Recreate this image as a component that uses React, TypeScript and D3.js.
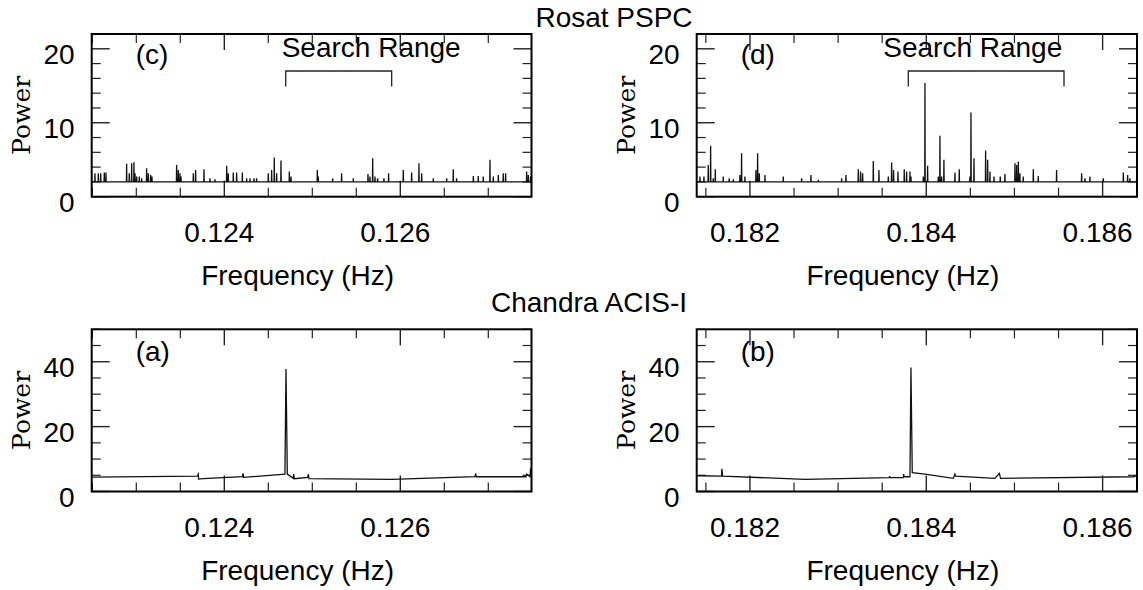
import React from 'react';
import * as d3 from 'd3';

const W = 1143;
const H = 590;

// ---------- data ----------
// Rosat PSPC, panel (c): spike frequencies (Hz) and peak powers
const rosatLowFreq = [
  0.12253, 0.122568, 0.122595, 0.122636, 0.122655, 0.12289, 0.12292, 0.122947, 0.122973, 0.122985,
  0.123004, 0.123034, 0.123061, 0.123117, 0.123136, 0.123163, 0.123178, 0.123458, 0.123477, 0.123496,
  0.123508, 0.123648, 0.123674, 0.123769, 0.123837, 0.123894, 0.124027, 0.124045, 0.124102, 0.12414,
  0.124205, 0.124254, 0.124292, 0.124337, 0.124367, 0.1245, 0.124538, 0.124568, 0.124595, 0.124644,
  0.124739, 0.124758, 0.125057, 0.125068, 0.125231, 0.125333, 0.125466, 0.125633, 0.125655, 0.125686,
  0.125712, 0.125742, 0.125814, 0.125867, 0.126034, 0.126129, 0.126212, 0.126243, 0.126375, 0.126527,
  0.126602, 0.12664, 0.12683, 0.126886, 0.126943, 0.127019, 0.127057, 0.127114, 0.12717, 0.127197,
  0.127436, 0.127455, 0.127481,
];
const rosatLowPower = [
  3.17, 3.17, 3.17, 3.26, 3.26, 4.44, 3.17, 4.53, 4.66, 3.17,
  2.72, 2.72, 2.49, 3.85, 3.17, 2.94, 2.72, 4.3, 3.62, 3.17,
  2.72, 3.17, 3.62, 3.71, 2.49, 2.36, 4.17, 3.17, 3.26, 3.26,
  3.26, 2.49, 2.49, 2.49, 2.49, 3.17, 3.62, 5.3, 3.17, 4.89,
  3.4, 2.72, 3.62, 2.72, 2.49, 3.17, 2.49, 3.08, 2.72, 5.21,
  2.72, 2.49, 2.49, 3.17, 3.62, 3.26, 4.53, 3.17, 2.49, 2.49,
  3.71, 2.49, 2.81, 2.81, 2.72, 4.98, 2.72, 2.94, 3.17, 3.17,
  3.4, 2.94, 2.72,
];

// Rosat PSPC, panel (d)
const rosatHighFreq = [
  0.181433, 0.181478, 0.181527, 0.181554, 0.181584, 0.181607, 0.181697, 0.181765, 0.181811, 0.181886,
  0.181905, 0.181943, 0.182068, 0.182087, 0.182106, 0.18217, 0.182378, 0.182586, 0.182692, 0.182775,
  0.18304, 0.183089, 0.183229, 0.183255, 0.183278, 0.183399, 0.183463, 0.183569, 0.183607, 0.183629,
  0.183679, 0.18375, 0.183777, 0.183815, 0.183826, 0.183966, 0.183985, 0.184015, 0.184136, 0.184155,
  0.184174, 0.1842, 0.184325, 0.184374, 0.184495, 0.184507, 0.184541, 0.184673, 0.184696, 0.184722,
  0.184768, 0.184839, 0.184892, 0.185006, 0.185025, 0.185044, 0.185062, 0.1851, 0.185214, 0.18527,
  0.185478, 0.185762, 0.1858, 0.185856, 0.186008, 0.186235, 0.186284, 0.18631, 0.186386,
];
const rosatHighPower = [
  2.72, 2.72, 4.3, 6.88, 2.49, 3.71, 2.72, 2.49, 2.36, 2.94,
  5.88, 2.72, 3.62, 5.88, 3.17, 2.94, 2.72, 2.49, 2.94, 2.27,
  2.49, 2.94, 3.71, 3.4, 3.17, 4.84, 3.62, 2.72, 4.61, 3.62,
  3.4, 3.71, 3.4, 3.4, 2.72, 2.72, 15.38, 4.17, 2.72, 8.24,
  2.72, 4.98, 3.26, 3.71, 2.72, 11.4, 5.21, 6.25, 4.98, 3.4,
  2.72, 2.72, 3.08, 4.53, 4.3, 4.75, 3.17, 2.72, 3.71, 2.81,
  3.62, 3.17, 2.49, 2.72, 2.49, 3.26, 2.94, 2.49, 2.49,
];
const rosatBaseline = 2.0;

// Chandra ACIS-I, panel (a): polyline points
const chandraLowFreq = [
  0.122492, 0.123693, 0.123705, 0.123708, 0.123761, 0.124205, 0.124212, 0.12422, 0.124689, 0.124701,
  0.124716, 0.124784, 0.124788, 0.124795, 0.124947, 0.124955, 0.124962, 0.125902, 0.126849, 0.126856,
  0.126864, 0.127428, 0.127436, 0.127474, 0.127481, 0.1275,
];
const chandraLowPower = [
  4.45, 4.76, 5.38, 3.83, 3.94, 4.55, 5.59, 4.35, 5.38, 37.73,
  5.38, 4.04, 5.38, 3.94, 4.35, 5.38, 3.94, 3.73, 4.55, 5.59,
  4.55, 4.55, 5.38, 4.55, 7.12, 4.55,
];

// Chandra ACIS-I, panel (b)
const chandraHighFreq = [
  0.181395, 0.181678, 0.181682, 0.18169, 0.182624, 0.18358, 0.183584, 0.183588, 0.183739, 0.183743,
  0.18375, 0.183815, 0.183826, 0.183841, 0.183985, 0.184306, 0.184325, 0.184333, 0.184779, 0.184828,
  0.184843, 0.186348, 0.186386, 0.186397,
];
const chandraHighPower = [
  4.86, 4.76, 7.03, 4.76, 3.73, 4.25, 4.76, 4.25, 4.25, 5.38,
  4.55, 4.55, 38.25, 5.79, 5.38, 4.04, 5.38, 4.76, 4.04, 5.59,
  4.04, 4.55, 4.86, 4.55,
];

// axes
const lowDomain = [0.122493, 0.127491];
const highDomain = [0.181396, 0.18639];
const lowMajorTicks = [0.124, 0.126];
const lowTickLabels = ['0.124', '0.126'];
const highMajorTicks = [0.182, 0.184, 0.186];
const highTickLabels = ['0.182', '0.184', '0.186'];
const minorStepX = 0.0005;
const rosatYDomain = [0, 22];
const rosatYTicks = [0, 10, 20];
const rosatYTickLabels = ['0', '10', '20'];
const rosatMinorStep = 2;
const chandraYDomain = [0, 50];
const chandraYTicks = [0, 20, 40];
const chandraYTickLabels = ['0', '20', '40'];
const chandraMinorStep = 5;

// search ranges
const searchLow = [0.124698, 0.125902];
const searchHigh = [0.183796, 0.185562];
const searchLabelLow = 0.124652;
const searchLabelHigh = 0.183512;
const searchBracketPower = [17.0, 14.9];

const SANS = 'Liberation Sans, Arial, Helvetica, sans-serif';
const SERIF = 'DejaVu Serif, serif';

type PanelProps = {
  x0: number; x1: number; y0: number; y1: number;
  xDomain: number[]; yDomain: number[];
  points: [number, number][];
  majorX: number[]; labelsX: string[];
  majorY: number[]; labelsY: string[]; minorStepY: number;
  letter: string; letterDy: number;
  search?: { range: number[]; labelAt: number };
  id: string;
};

function Panel(p: PanelProps) {
  const x = d3.scaleLinear().domain(p.xDomain).range([p.x0, p.x1]);
  const y = d3.scaleLinear().domain(p.yDomain).range([p.y1, p.y0]);
  const line = d3.line<[number, number]>().x(d => x(d[0])).y(d => y(d[1]));
  const minorX = d3.range(Math.ceil(p.xDomain[0] / minorStepX) * minorStepX, p.xDomain[1], minorStepX)
    .filter(v => !p.majorX.some(m => Math.abs(m - v) < 1e-7));
  const minorY = d3.range(p.yDomain[0] + p.minorStepY, p.yDomain[1] + 1e-9, p.minorStepY)
    .filter(v => !p.majorY.includes(v));
  const tickCol = '#222';
  const majX = 16, minX = 9, majY = 18, minY = 9;
  return (
    <g>
      <defs>
        <clipPath id={p.id}>
          <rect x={p.x0} y={p.y0} width={p.x1 - p.x0} height={p.y1 - p.y0} />
        </clipPath>
      </defs>
      {p.majorX.map((v, i) => (
        <g key={'mx' + i}>
          <line x1={x(v)} x2={x(v)} y1={p.y1} y2={p.y1 - majX} stroke={tickCol} strokeWidth={1.4} />
          <line x1={x(v)} x2={x(v)} y1={p.y0} y2={p.y0 + majX} stroke={tickCol} strokeWidth={1.4} />
          <text x={x(v) - 5} y={p.y1 + 45} textAnchor="middle" fontFamily={SANS} fontSize={28}>{p.labelsX[i]}</text>
        </g>
      ))}
      {minorX.map((v, i) => (
        <g key={'nx' + i}>
          <line x1={x(v)} x2={x(v)} y1={p.y1} y2={p.y1 - minX} stroke={tickCol} strokeWidth={1.2} />
          <line x1={x(v)} x2={x(v)} y1={p.y0} y2={p.y0 + minX} stroke={tickCol} strokeWidth={1.2} />
        </g>
      ))}
      {p.majorY.map((v, i) => (
        <g key={'my' + i}>
          <line x1={p.x0} x2={p.x0 + majY} y1={y(v)} y2={y(v)} stroke={tickCol} strokeWidth={1.4} />
          <line x1={p.x1} x2={p.x1 - majY} y1={y(v)} y2={y(v)} stroke={tickCol} strokeWidth={1.4} />
          <text x={p.x0 - 17} y={y(v) + 15.5} textAnchor="end" fontFamily={SANS} fontSize={28}>{p.labelsY[i]}</text>
        </g>
      ))}
      {minorY.map((v, i) => (
        <g key={'ny' + i}>
          <line x1={p.x0} x2={p.x0 + minY} y1={y(v)} y2={y(v)} stroke={tickCol} strokeWidth={1.2} />
          <line x1={p.x1} x2={p.x1 - minY} y1={y(v)} y2={y(v)} stroke={tickCol} strokeWidth={1.2} />
        </g>
      ))}
      <path d={line(p.points) || ''} fill="none" stroke="#111" strokeWidth={1.3} clipPath={`url(#${p.id})`} />
      <rect x={p.x0} y={p.y0} width={p.x1 - p.x0} height={p.y1 - p.y0} fill="none" stroke="#000" strokeWidth={2} />
      <text x={p.x0 + 44} y={p.y0 + p.letterDy} fontFamily={SANS} fontSize={28}>{p.letter}</text>
      <text x={(p.x0 + p.x1) / 2 - 14} y={p.y1 + 88} textAnchor="middle" fontFamily={SANS} fontSize={28}>Frequency (Hz)</text>
      <text transform={`translate(${p.x0 - 62},${(p.y0 + p.y1) / 2}) rotate(-90)`} textAnchor="middle" fontFamily={SERIF} fontSize={25}>Power</text>
      {p.search && (
        <g>
          <path
            d={`M${x(p.search.range[0])},${y(searchBracketPower[1])}V${y(searchBracketPower[0])}H${x(p.search.range[1])}V${y(searchBracketPower[1])}`}
            fill="none" stroke="#222" strokeWidth={1.3}
          />
          <text x={x(p.search.labelAt)} y={p.y0 + 22.7} fontFamily={SANS} fontSize={28}>Search Range</text>
        </g>
      )}
    </g>
  );
}

function spikes(freq: number[], power: number[], base: number, domain: number[]): [number, number][] {
  const eps = 0.0000025;
  const pts: [number, number][] = [[domain[0], base]];
  freq.forEach((f, i) => {
    pts.push([f - eps, base], [f, power[i]], [f + eps, base]);
  });
  pts.push([domain[1], base]);
  return pts;
}

function zipPts(f: number[], p: number[]): [number, number][] {
  return f.map((v, i) => [v, p[i]] as [number, number]);
}

export default function App() {
  const L = { x0: 91.7, x1: 531.5 };
  const R = { x0: 696.7, x1: 1137 };
  const T = { y0: 34, y1: 196.7 };
  const B = { y0: 329.3, y1: 491.5 };
  return (
    <svg width={W} height={H} style={{ position: 'absolute', left: 0, top: 0, background: '#fff' }}>
      <rect x={0} y={0} width={W} height={H} fill="#fff" />
      <text x={614} y={26.7} textAnchor="middle" fontFamily={SANS} fontSize={28}>Rosat PSPC</text>
      <text x={589} y={311.5} textAnchor="middle" fontFamily={SANS} fontSize={28}>Chandra ACIS-I</text>
      <Panel id="pc" {...L} {...T} xDomain={lowDomain} yDomain={rosatYDomain}
        points={spikes(rosatLowFreq, rosatLowPower, rosatBaseline, lowDomain)}
        majorX={lowMajorTicks} labelsX={lowTickLabels} majorY={rosatYTicks} labelsY={rosatYTickLabels}
        minorStepY={rosatMinorStep} letter="(c)" letterDy={29.5}
        search={{ range: searchLow, labelAt: searchLabelLow }} />
      <Panel id="pd" {...R} {...T} xDomain={highDomain} yDomain={rosatYDomain}
        points={spikes(rosatHighFreq, rosatHighPower, rosatBaseline, highDomain)}
        majorX={highMajorTicks} labelsX={highTickLabels} majorY={rosatYTicks} labelsY={rosatYTickLabels}
        minorStepY={rosatMinorStep} letter="(d)" letterDy={29.5}
        search={{ range: searchHigh, labelAt: searchLabelHigh }} />
      <Panel id="pa" {...L} {...B} xDomain={lowDomain} yDomain={chandraYDomain}
        points={zipPts(chandraLowFreq, chandraLowPower)}
        majorX={lowMajorTicks} labelsX={lowTickLabels} majorY={chandraYTicks} labelsY={chandraYTickLabels}
        minorStepY={chandraMinorStep} letter="(a)" letterDy={32} />
      <Panel id="pb" {...R} {...B} xDomain={highDomain} yDomain={chandraYDomain}
        points={zipPts(chandraHighFreq, chandraHighPower)}
        majorX={highMajorTicks} labelsX={highTickLabels} majorY={chandraYTicks} labelsY={chandraYTickLabels}
        minorStepY={chandraMinorStep} letter="(b)" letterDy={32} />
    </svg>
  );
}
